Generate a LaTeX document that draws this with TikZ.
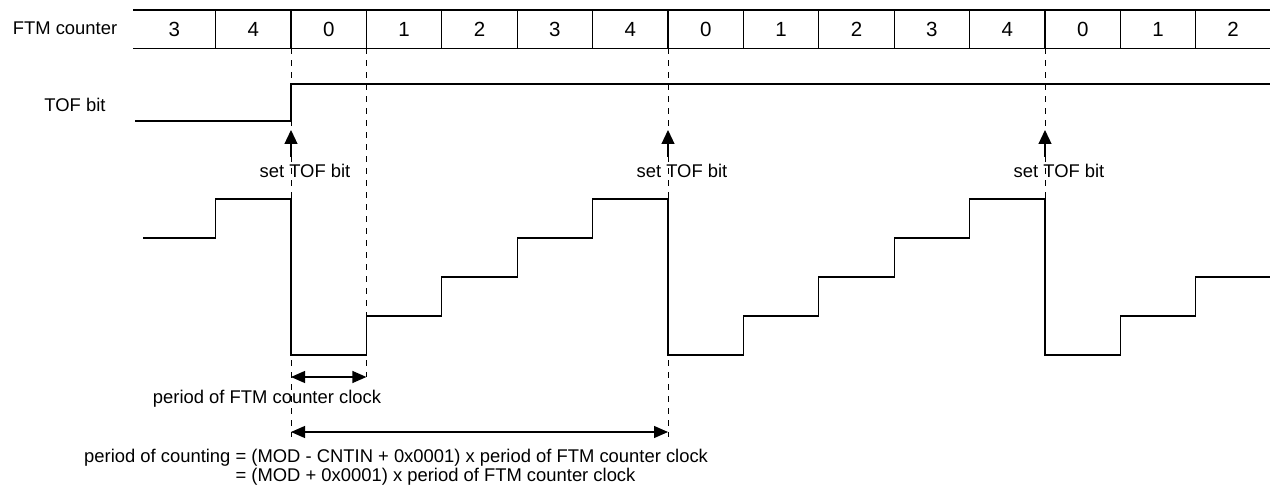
\documentclass[tikz,border=0pt]{standalone}
\usepackage{fontspec}
\setmainfont{Liberation Sans}
\usetikzlibrary{arrows.meta}
\begin{document}
\begin{tikzpicture}[x=1pt,y=-1pt,
  sig/.style={line width=1.2pt},
  guide/.style={line width=1pt, dash pattern=on 6pt off 6pt},
  lbl/.style={font=\fontsize{18.4}{22}\selectfont, inner sep=0pt, anchor=base},
  digit/.style={font=\fontsize{20.5}{24}\selectfont, inner sep=0pt, anchor=base},
  uparrow/.style={-{Triangle[length=14pt,width=13pt]}, line width=1.2pt},
  dblarrow/.style={{Triangle[length=14pt,width=12pt]}-{Triangle[length=14pt,width=12pt]}, line width=1.2pt}]
\useasboundingbox (0,0) rectangle (1270,486);

% dashed guide lines
\coordinate (g1t) at (291,48.3);  \coordinate (g1b) at (291,437);
\coordinate (g2t) at (366.4,48.3); \coordinate (g2b) at (366.4,377);
\coordinate (g3t) at (668,48.3);  \coordinate (g3b) at (668,437);
\coordinate (g4t) at (1045,48.3); \coordinate (g4b) at (1045,199);
\draw[guide] (g1t) -- (g1b);
\draw[guide] (g2t) -- (g2b);
\draw[guide] (g3t) -- (g3b);
\draw[guide] (g4t) -- (g4b);

% counter row
\draw[sig] (133,10) -- (1270,10);
\draw[sig] (133,48.3) -- (1270,48.3);
\foreach \k in {-1,...,12} \draw[sig] ({291+75.4*\k},10) -- ({291+75.4*\k},48.3);
\node[digit] (c0) at (174.3,36.5) {3};
\foreach \v [count=\i from -1] in {4,0,1,2,3,4,0,1,2,3,4,0,1}
  \node[digit] (c\v\i) at ({291+75.4*\i+37.7},36.5) {\v};
\node[digit] (clast) at (1233,36.5) {2};

\node[lbl] (ftm) at (65,35) {FTM counter};
\node[lbl] (tof) at (75,111.5) {TOF bit};

% TOF signal
\draw[sig] (135,121) -- (291,121) -- (291,84) -- (1270,84);

% set TOF bit arrows
\foreach \x/\n in {291/a,668/b,1045/c}{
  \coordinate (s\n b) at (\x,157);
  \coordinate (s\n t) at (\x,130);
  \draw[uparrow] (s\n b) -- (s\n t);
  \node[lbl] (st\n) at (\x+14,178) {set TOF bit};
}

% counter waveform
\def\La{355}\def\Lb{316}\def\Lc{277}\def\Ld{238}\def\Le{199}
\draw[sig] (143,\Ld) -- (215.6,\Ld) -- (215.6,\Le) -- (291,\Le) -- (291,\La)
  -- (366.4,\La) -- (366.4,\Lb) -- (441.8,\Lb) -- (441.8,\Lc) -- (517.2,\Lc)
  -- (517.2,\Ld) -- (592.6,\Ld) -- (592.6,\Le) -- (668,\Le) -- (668,\La)
  -- (743.4,\La) -- (743.4,\Lb) -- (818.8,\Lb) -- (818.8,\Lc) -- (894.2,\Lc)
  -- (894.2,\Ld) -- (969.6,\Ld) -- (969.6,\Le) -- (1045,\Le) -- (1045,\La)
  -- (1120.4,\La) -- (1120.4,\Lb) -- (1195.8,\Lb) -- (1195.8,\Lc) -- (1270,\Lc);

% period arrows
\coordinate (pa1) at (291,377); \coordinate (pa2) at (366.4,377);
\draw[dblarrow] (pa1) -- (pa2);
\node[lbl] (pclk) at (267,403) {period of FTM counter clock};
\coordinate (pb1) at (291,432); \coordinate (pb2) at (668,432);
\draw[dblarrow] (pb1) -- (pb2);
\node[lbl, anchor=base west] (f1) at (84,462) {period of counting = (MOD - CNTIN + 0x0001) x period of FTM counter clock};
\node[lbl, anchor=base west] (f2) at (84,481.5) {\phantom{period of counting }= (MOD + 0x0001) x period of FTM counter clock};
\end{tikzpicture}
\end{document}
